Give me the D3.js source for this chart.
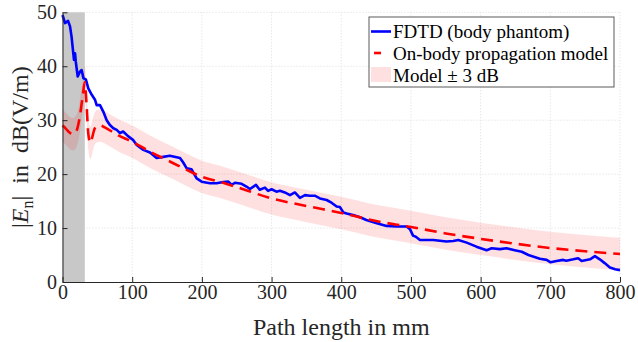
<!DOCTYPE html>
<html>
<head>
<meta charset="utf-8">
<script src="https://cdn.jsdelivr.net/npm/d3@7"></script>
</head>
<body style="margin:0">
<script>
// FDTD (body phantom)
const fdtdMm = [0, 3.6, 8, 10.8, 13, 15.5, 16.5, 18, 19, 21.8, 25, 27.5, 30, 33.7, 37, 42, 46.6, 49, 53.8, 58.5,
  63.4, 68, 73, 77.8, 82.5, 87, 94.4, 101.6, 106.5, 116, 125.5, 135, 144.6, 154, 168.6, 173, 178, 185, 192.5, 199.7,
  211.6, 221, 230.7, 238, 242.8, 247.5, 257, 264, 269, 277.6, 283, 290.5, 295, 300, 307, 312, 319, 326.4, 333.5, 340.7,
  348, 355, 362, 369.4, 379, 386, 393.4, 398, 403, 407.7, 417, 427, 436, 451, 465, 479.5, 494, 498.6, 503, 507,
  513, 532, 551, 560.7, 568, 580, 594, 608.6, 615.8, 627.7, 637, 649, 659, 668.6, 685, 694.7, 700.4, 709, 718.5, 723,
  733, 740, 745, 757, 764, 771, 778, 785.5, 793, 800];
const fdtdDb = [49.5, 48, 48.4, 47.4, 45.5, 42.4, 41.2, 42.4, 40.9, 38.1, 39, 39.3, 37.8, 37.5, 35.9, 34.7, 33.8, 32.8, 32.8, 31.6,
  30, 29.1, 28.5, 28.2, 27.6, 27.9, 27, 26.3, 25.4, 24.5, 24, 23, 23.2, 23.4, 23, 22.2, 21.1, 20.9, 19.2, 18.6,
  18.3, 18.3, 18.55, 18.6, 18, 18.4, 18.2, 17.7, 17.25, 18, 17.1, 17.5, 16.9, 17.2, 16.75, 16.9, 16.6, 16.1, 16.6, 15.6,
  16.1, 16, 16, 15.5, 15.2, 14.7, 14, 13.9, 12.9, 12.7, 12.4, 12, 11.5, 10.9, 10.4, 10.3, 10.3, 9.8, 8.6, 8.4,
  7.8, 7.8, 7.5, 7.6, 7.8, 7.3, 6.55, 5.9, 6.25, 6.1, 6.25, 5.9, 5.6, 5, 4.3, 4.1, 3.65, 3.9, 4.1, 3.95,
  4.2, 4.4, 3.9, 4.2, 4.8, 4.2, 3.5, 2.7, 2.35, 2.2];

// On-body propagation model
const modelMm = [0, 5, 10, 15, 20, 25, 29, 32, 34.5, 37, 40, 43, 46, 50, 55, 60, 80, 100, 125, 150,
  175, 200, 225, 250, 300, 350, 400, 450, 500, 550, 600, 650, 700, 750, 800];
const modelDb = [29, 28.4, 27.7, 27.4, 28, 30.8, 34.5, 37, 33, 27.5, 25.8, 27, 28.4, 28.9, 29, 28.7, 27.2, 26, 24.2, 22.6,
  21, 19.5, 18.6, 17.6, 15.5, 14.1, 12.8, 11.3, 10.2, 9.0, 8.0, 7.1, 6.3, 5.7, 5.2];
const bandDb = 3;          // model +/- 3 dB
const shadedMm = [0, 32];  // grey region

const xTicks = [0, 100, 200, 300, 400, 500, 600, 700, 800];
const yTicks = [0, 10, 20, 30, 40, 50];
const legendLabels = ["FDTD (body phantom)", "On-body propagation model", "Model \u00b1 3 dB"];

const FONT = "'Liberation Serif', 'Times New Roman', serif";
const width = 638, height = 342;
const margin = { top: 12.3, right: 18, bottom: 60, left: 62.5 };
const innerW = width - margin.left - margin.right;
const innerH = height - margin.top - margin.bottom;

// serif everywhere, with priority so nothing else overrides it
function serif(sel, size) {
  sel.style("font-family", FONT, "important").style("font-size", size + "px", "important");
}

const svg = d3.select("body")
  .append("svg")
  .attr("width", width)
  .attr("height", height)
  .attr("font-family", FONT);

const g = svg.append("g")
  .attr("transform", "translate(" + margin.left + "," + margin.top + ")");

const x = d3.scaleLinear().domain([0, 800]).range([0, innerW]);
const y = d3.scaleLinear().domain([0, 50]).range([innerH, 0]);

// grid
g.append("g").selectAll("line")
  .data(xTicks.slice(1))
  .join("line")
  .attr("x1", d => x(d)).attr("x2", d => x(d))
  .attr("y1", 0).attr("y2", innerH)
  .attr("stroke", "#dcdcdc").attr("stroke-width", 1).attr("stroke-dasharray", "1,2");
g.append("g").selectAll("line")
  .data(yTicks.slice(1))
  .join("line")
  .attr("x1", 0).attr("x2", innerW)
  .attr("y1", d => y(d)).attr("y2", d => y(d))
  .attr("stroke", "#dcdcdc").attr("stroke-width", 1).attr("stroke-dasharray", "1,2");

// grey region
g.append("rect")
  .attr("x", x(shadedMm[0]))
  .attr("y", y(50))
  .attr("width", x(shadedMm[1]) - x(shadedMm[0]))
  .attr("height", y(0) - y(50))
  .attr("fill", "#c8c8c8");

const model = modelMm.map((m, i) => ({ mm: m, db: modelDb[i] }));
const fdtd = fdtdMm.map((m, i) => ({ mm: m, db: fdtdDb[i] }));

// +/- 3 dB band
const band = d3.area()
  .x(d => x(d.mm))
  .y0(d => y(d.db - bandDb))
  .y1(d => y(d.db + bandDb))
  .curve(d3.curveMonotoneX);

g.append("path")
  .datum(model)
  .attr("d", band)
  .attr("fill", "#ff0000")
  .attr("fill-opacity", 0.12);

const line = d3.line()
  .x(d => x(d.mm))
  .y(d => y(d.db));

g.append("path")
  .datum(fdtd)
  .attr("d", line)
  .attr("fill", "none")
  .attr("stroke", "#0000ff")
  .attr("stroke-width", 2.6)
  .attr("stroke-linejoin", "round");

g.append("path")
  .datum(model)
  .attr("d", line.curve(d3.curveMonotoneX))
  .attr("fill", "none")
  .attr("stroke", "#ff0000")
  .attr("stroke-width", 2.6)
  .attr("stroke-dasharray", "12,7");

// axes, ticks pointing inward
const xAxis = g.append("g")
  .attr("transform", "translate(0," + innerH + ")")
  .call(d3.axisBottom(x).tickValues(xTicks).tickSizeInner(-5).tickSizeOuter(0).tickPadding(3));
const yAxis = g.append("g")
  .call(d3.axisLeft(y).tickValues(yTicks).tickSizeInner(-5).tickSizeOuter(0).tickPadding(5.5));

[xAxis, yAxis].forEach(a => {
  a.attr("font-family", FONT).attr("font-size", 20);
  a.select(".domain").attr("stroke", "#262626");
  a.selectAll(".tick line").attr("stroke", "#262626");
  a.selectAll(".tick text").attr("fill", "#262626").call(serif, 20);
});

// axis labels
svg.append("text")
  .attr("x", margin.left + innerW / 2)
  .attr("y", 335)
  .attr("text-anchor", "middle")
  .attr("fill", "#262626")
  .call(serif, 24)
  .text("Path length in mm");

const yl = svg.append("text")
  .attr("transform", "translate(28," + (margin.top + innerH / 2) + ") rotate(-90)")
  .attr("text-anchor", "middle")
  .attr("fill", "#262626")
  .call(serif, 24);
yl.append("tspan").text("|");
yl.append("tspan").style("font-style", "italic").text("E");
yl.append("tspan").call(serif, 16).attr("dy", 5).text("n");
yl.append("tspan").attr("dy", -5).text("|\u2002in\u2002dB(V/m)");

// legend
const leg = svg.append("g").attr("transform", "translate(369,17)");
leg.append("rect")
  .attr("width", 245).attr("height", 70)
  .attr("fill", "#fff")
  .attr("stroke", "#5a5a5a").attr("stroke-width", 1);

const rowY = [14.5, 36, 58];
leg.append("line")
  .attr("x1", 2).attr("x2", 22).attr("y1", rowY[0]).attr("y2", rowY[0])
  .attr("stroke", "#0000ff").attr("stroke-width", 2.6);
leg.append("line")
  .attr("x1", 5).attr("x2", 12).attr("y1", rowY[1]).attr("y2", rowY[1])
  .attr("stroke", "#ff0000").attr("stroke-width", 2.6);
leg.append("rect")
  .attr("x", 2).attr("y", rowY[2] - 8).attr("width", 20).attr("height", 15)
  .attr("fill", "#ff0000").attr("fill-opacity", 0.12);

leg.selectAll("text.lab")
  .data(legendLabels)
  .join("text")
  .attr("class", "lab")
  .attr("x", 24)
  .attr("y", (d, i) => rowY[i])
  .attr("dy", "0.35em")
  .attr("fill", "#000")
  .call(serif, 19)
  .text(d => d);
</script>
</body>
</html>
